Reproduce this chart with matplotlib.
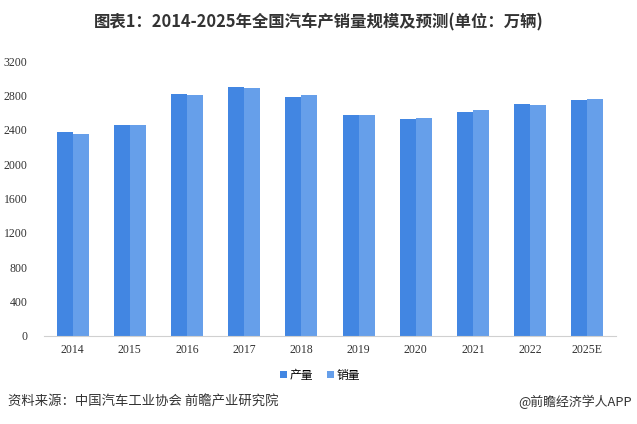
import matplotlib
matplotlib.use("Agg")
import matplotlib.pyplot as plt
import numpy as np

years = ["2014", "2015", "2016", "2017", "2018", "2019", "2020", "2021", "2022", "2025E"]
production = [2372, 2450, 2812, 2902, 2781, 2572, 2523, 2608, 2702, 2748]
sales = [2349, 2460, 2803, 2888, 2808, 2577, 2531, 2628, 2686, 2760]
yticks = [0, 400, 800, 1200, 1600, 2000, 2400, 2800, 3200]

plt.rcParams['font.family'] = ['Noto Sans CJK SC', 'DejaVu Sans']

fig = plt.figure(figsize=(6.37, 4.24), dpi=100)
ax = fig.add_axes([44/637, 1-336/424, (616-44)/637, (336-61)/424])

x = np.arange(len(years))
w = 0.28
c1 = "#4286E2"
c2 = "#669FEA"
ax.bar(x - w/2, production, width=w, color=c1, label="产量")
ax.bar(x + w/2, sales, width=w, color=c2, label="销量")

ax.set_xlim(-0.5, len(years) - 0.5)
ax.set_ylim(0, 3200)
ax.set_yticks(yticks)
ax.set_yticklabels([str(t) for t in yticks], fontfamily='Liberation Serif', fontsize=8.5, color='#333333')
ax.set_xticks(x)
ax.set_xticklabels(years, fontfamily='Liberation Serif', fontsize=8.5, color='#333333')
ax.tick_params(axis='both', length=0)
ax.tick_params(axis='y', pad=12)
ax.tick_params(axis='x', pad=6)
for s in ['top', 'right', 'left']:
    ax.spines[s].set_visible(False)
ax.spines['bottom'].set_color('#d0d0d0')

fig.text(0.5, 1-22/424, "图表1：2014-2025年全国汽车产销量规模及预测(单位：万辆)", ha='center', va='center',
         fontsize=11.8, fontweight='bold', color='#333333')

leg = fig.legend(loc='center', bbox_to_anchor=(320/637, 1-375/424), ncol=2, frameon=False,
                 fontsize=8.5, handlelength=0.6, handleheight=0.6, handletextpad=0.2, columnspacing=1.2)

fig.text(8/637, 1-402/424, "资料来源：中国汽车工业协会 前瞻产业研究院", ha='left', va='center', fontsize=9.6, color='#333333')
fig.text(632/637, 1-402/424, "@前瞻经济学人APP", ha='right', va='center', fontsize=9.3, color='#333333')

fig.savefig("out.png", dpi=100)
